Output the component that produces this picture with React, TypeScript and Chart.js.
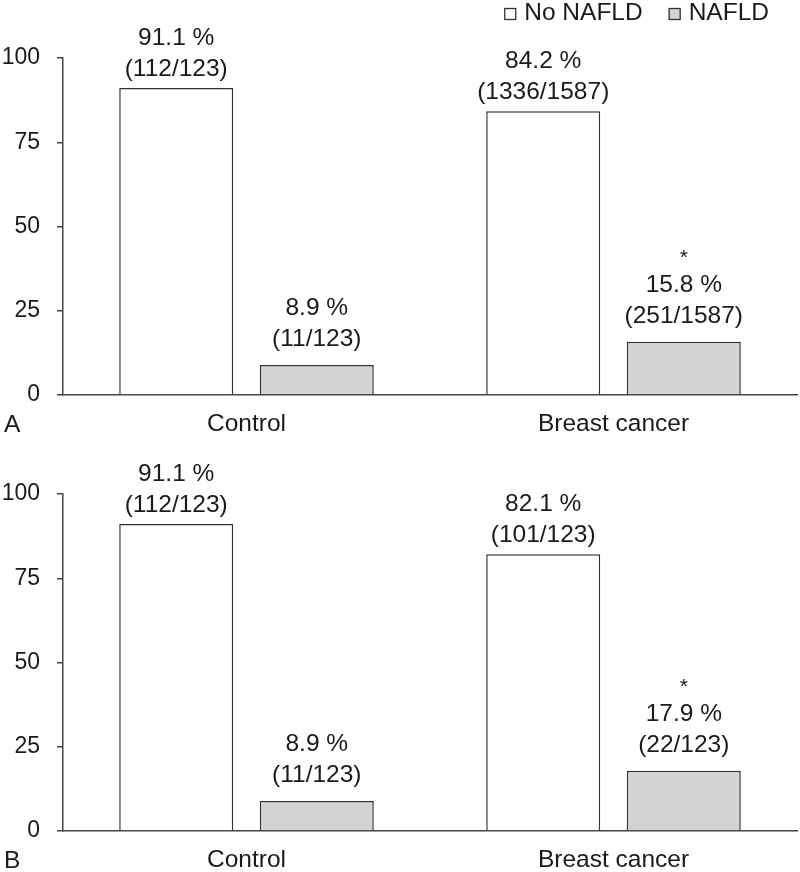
import React, { useEffect, useRef } from "react";
import { Chart, registerables } from "chart.js";

Chart.register(...registerables);

// ---------- data ----------
const categories = ["Control", "Breast cancer"];
const seriesNames = ["No NAFLD", "NAFLD"];

const panelA_noNafld = [91.1, 84.2];
const panelA_nafld = [8.9, 15.8];
const panelA_noNafldCounts = ["112/123", "1336/1587"];
const panelA_nafldCounts = ["11/123", "251/1587"];

const panelB_noNafld = [91.1, 82.1];
const panelB_nafld = [8.9, 17.9];
const panelB_noNafldCounts = ["112/123", "101/123"];
const panelB_nafldCounts = ["11/123", "22/123"];

const nafldSignificant = [false, true];

const yMin = 0;
const yMax = 100;
const yStep = 25;

// ---------- style ----------
const FONT = "'Liberation Sans', Arial, Helvetica, sans-serif";
const TEXT = "#1a1a1a";
const AXIS = "#444444";
const WHITE_FILL = "#ffffff";
const GRAY_FILL = "#d3d3d3";
const BAR_BORDER = "#333333";
const FS = 24.5;
const FS_Y = 23;

type PanelProps = {
  letter: string;
  noNafld: number[];
  nafld: number[];
  noNafldCounts: string[];
  nafldCounts: string[];
  showLegend: boolean;
};

const labelPlugin = {
  id: "barLabels",
  afterDatasetsDraw(chart: any, _args: any, opts: any) {
    const ctx = chart.ctx;
    ctx.save();
    ctx.fillStyle = TEXT;
    ctx.font = `${FS}px ${FONT}`;
    ctx.textAlign = "center";
    ctx.textBaseline = "alphabetic";
    const gaps = [12, 19];
    const lineSp = 31;
    chart.data.datasets.forEach((ds: any, di: number) => {
      const meta = chart.getDatasetMeta(di);
      meta.data.forEach((bar: any, i: number) => {
        const v = ds.data[i];
        const counts = opts.counts[di][i];
        const base2 = bar.y - gaps[di];
        const base1 = base2 - lineSp;
        ctx.fillText(`${v.toFixed(1)} %`, bar.x, base1);
        ctx.fillText(`(${counts})`, bar.x, base2);
        if (di === 1 && nafldSignificant[i]) {
          ctx.save();
          ctx.font = `21px ${FONT}`;
          ctx.fillText("*", bar.x, base1 - 28);
          ctx.restore();
        }
      });
    });
    // panel letter
    ctx.textAlign = "left";
    ctx.fillText(opts.letter, 4, 432);
    ctx.restore();
  },
};

const legendPlugin = {
  id: "customLegend",
  afterDraw(chart: any, _args: any, opts: any) {
    if (!opts.show) return;
    const ctx = chart.ctx;
    ctx.save();
    ctx.font = `${FS}px ${FONT}`;
    ctx.textBaseline = "alphabetic";
    ctx.textAlign = "left";
    const box = 12;
    const boxGap = 8;
    const itemGap = 26;
    const right = 769;
    const baseline = 20;
    const items = chart.data.datasets.map((d: any) => ({
      text: d.label,
      fill: d.backgroundColor,
    }));
    const widths = items.map((it: any) => box + boxGap + ctx.measureText(it.text).width);
    const total = widths.reduce((a: number, b: number) => a + b, 0) + itemGap * (items.length - 1);
    let x = right - total;
    items.forEach((it: any, i: number) => {
      ctx.fillStyle = it.fill;
      ctx.fillRect(x, 8, box, box);
      ctx.strokeStyle = BAR_BORDER;
      ctx.lineWidth = 1.3;
      ctx.strokeRect(x + 0.5, 8.5, box - 1, box - 1);
      ctx.fillStyle = TEXT;
      ctx.fillText(it.text, x + box + boxGap, baseline);
      x += widths[i] + itemGap;
    });
    ctx.restore();
  },
};

function Panel(props: PanelProps) {
  const ref = useRef<HTMLCanvasElement | null>(null);
  useEffect(() => {
    if (!ref.current) return;
    const chart = new Chart(ref.current, {
      type: "bar",
      data: {
        labels: categories,
        datasets: [
          {
            label: seriesNames[0],
            data: props.noNafld,
            backgroundColor: WHITE_FILL,
            borderColor: BAR_BORDER,
            borderWidth: 1.5,
            categoryPercentage: 0.766,
            barPercentage: 0.811,
          },
          {
            label: seriesNames[1],
            data: props.nafld,
            backgroundColor: GRAY_FILL,
            borderColor: BAR_BORDER,
            borderWidth: 1.5,
            categoryPercentage: 0.766,
            barPercentage: 0.811,
          },
        ],
      },
      options: {
        responsive: true,
        maintainAspectRatio: false,
        animation: false,
        layout: { padding: { top: 58, right: 3, bottom: 0, left: 0 } },
        plugins: {
          legend: { display: false },
          tooltip: { enabled: false },
          barLabels: {
            letter: props.letter,
            counts: [props.noNafldCounts, props.nafldCounts],
          },
          customLegend: { show: props.showLegend },
        } as any,
        scales: {
          x: {
            grid: { display: false, drawTicks: false },
            border: { display: true, color: AXIS, width: 1.5 },
            ticks: {
              color: TEXT,
              font: { family: FONT, size: FS },
              padding: 15,
              maxRotation: 0,
            },
            afterFit(scale: any) {
              scale.height = 41;
            },
          },
          y: {
            min: yMin,
            max: yMax,
            grid: {
              display: true,
              drawOnChartArea: false,
              drawTicks: true,
              tickLength: 6,
              color: AXIS,
              lineWidth: 1.5,
            },
            border: { display: true, color: AXIS, width: 1.5 },
            ticks: {
              stepSize: yStep,
              color: TEXT,
              font: { family: FONT, size: FS_Y },
              padding: 17,
            },
            afterFit(scale: any) {
              scale.width = 63;
            },
          },
        },
      },
      plugins: [labelPlugin, legendPlugin],
    });
    return () => chart.destroy();
  }, []);
  return (
    <div style={{ position: "relative", width: 800, height: 436 }}>
      <canvas ref={ref} />
    </div>
  );
}

export default function App() {
  return (
    <div style={{ position: "absolute", left: 0, top: 0, width: 800, height: 872, background: "#fff" }}>
      <Panel
        letter="A"
        noNafld={panelA_noNafld}
        nafld={panelA_nafld}
        noNafldCounts={panelA_noNafldCounts}
        nafldCounts={panelA_nafldCounts}
        showLegend={true}
      />
      <Panel
        letter="B"
        noNafld={panelB_noNafld}
        nafld={panelB_nafld}
        noNafldCounts={panelB_noNafldCounts}
        nafldCounts={panelB_nafldCounts}
        showLegend={false}
      />
    </div>
  );
}
